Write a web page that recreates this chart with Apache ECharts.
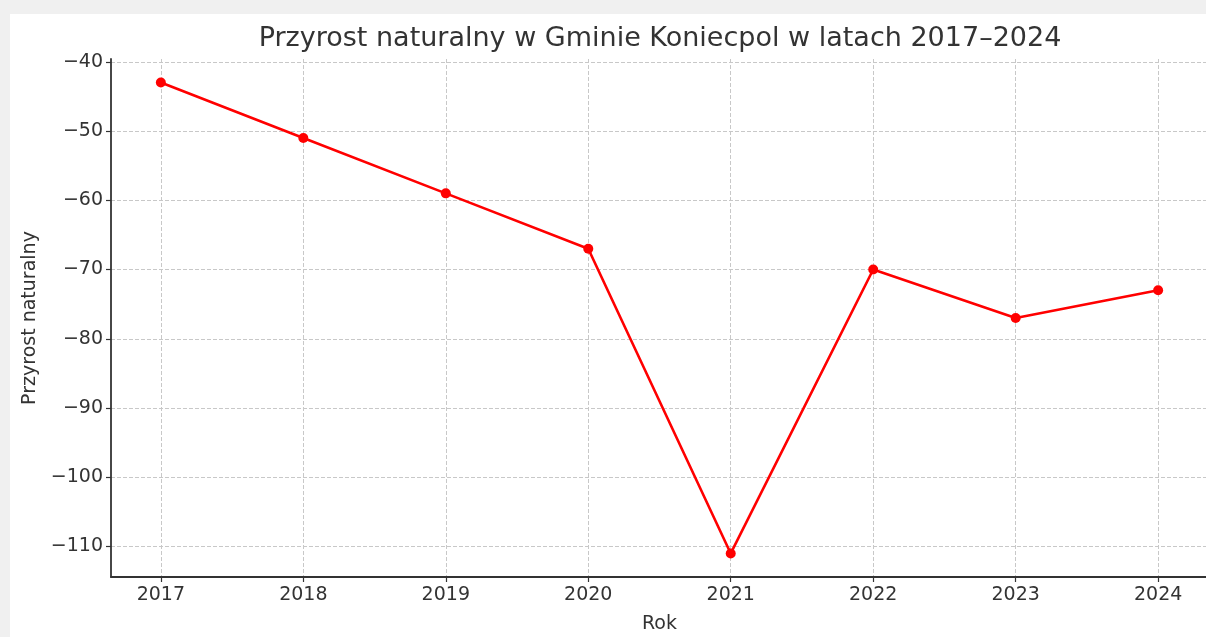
<!DOCTYPE html>
<html>
<head>
<meta charset="utf-8">
<script src="https://cdn.jsdelivr.net/npm/echarts@6/dist/echarts.min.js"></script>
<style>
  html, body { margin: 0; padding: 0; background: #f0f0f0; }
  #chart { position: absolute; left: 10px; top: 14px; width: 1196px; height: 623px; background: #fff; }
</style>
</head>
<body>
<div id="chart"></div>
<script>
// dane
var years = [2017, 2018, 2019, 2020, 2021, 2022, 2023, 2024];
var przyrost = [-43, -51, -59, -67, -111, -70, -77, -73];
var yTicks = [-110, -100, -90, -80, -70, -60, -50, -40];

var font = "'DejaVu Sans'";
var txt = '#333';
var minus = function (v) { return String(v).replace('-', '\u2212'); };

var myChart = echarts.init(document.getElementById('chart'));
var option = {
    animation: false,
    textStyle: { fontFamily: font },
    title: {
        text: 'Przyrost naturalny w Gminie Koniecpol w latach 2017\u20132024',
        left: 645,
        top: 6,
        textAlign: 'center',
        textStyle: { fontFamily: font, fontSize: 27, fontWeight: 'normal', color: txt }
    },
    grid: { left: 101, right: -2, top: 45, bottom: 60, outerBoundsMode: 'none', containLabel: false },
    xAxis: {
        type: 'value',
        min: 2016.65,
        max: 2024.35,
        name: 'Rok',
        nameLocation: 'middle',
        nameGap: 38,
        nameTextStyle: { fontFamily: font, fontSize: 19, color: txt },
        axisLine: { lineStyle: { color: '#333', width: 1.8 } },
        axisTick: { show: true, length: 5, inside: false, customValues: years, lineStyle: { color: '#333', width: 1.2 } },
        axisLabel: { customValues: years, fontFamily: font, fontSize: 19, color: txt, margin: 9,
            formatter: function (v) { return String(v); } },
        splitLine: { show: true, lineStyle: { color: '#c8c8c8', type: [4, 2], width: 1 } }
    },
    yAxis: {
        type: 'value',
        min: -114.4,
        max: -39.6,
        name: 'Przyrost naturalny',
        nameLocation: 'middle',
        nameGap: 69,
        nameRotate: 90,
        nameTextStyle: { fontFamily: font, fontSize: 19, color: txt },
        axisLine: { show: true, lineStyle: { color: '#333', width: 1.8 } },
        axisTick: { show: true, length: 5, customValues: yTicks, lineStyle: { color: '#333', width: 1.2 } },
        axisLabel: { customValues: yTicks, fontFamily: font, fontSize: 19, color: txt, margin: 8, formatter: minus },
        splitLine: { show: true, lineStyle: { color: '#c8c8c8', type: [4, 2], width: 1 } }
    },
    series: [
        {
            type: 'line',
            data: years.map(function (y, i) { return [y, przyrost[i]]; }),
            symbol: 'circle',
            symbolSize: 10,
            lineStyle: { color: '#ff0000', width: 2.6 },
            itemStyle: { color: '#ff0000' }
        }
    ]
};
myChart.setOption(option);
</script>
</body>
</html>
